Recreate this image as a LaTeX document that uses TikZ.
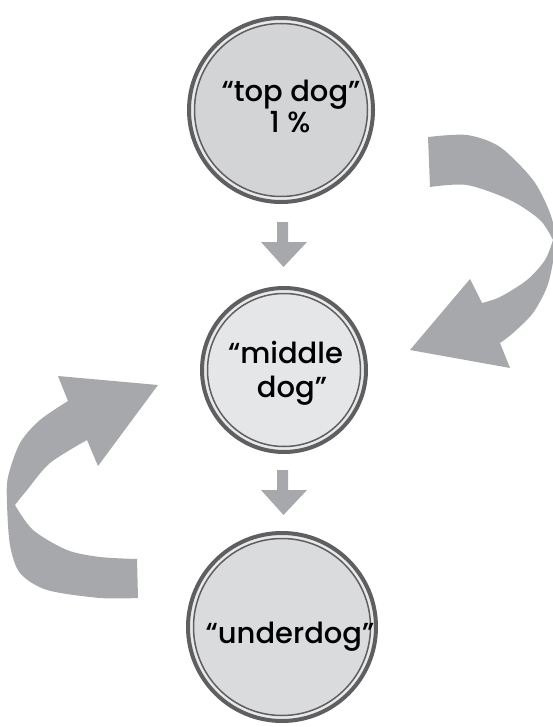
\documentclass[tikz,border=0pt]{standalone}
\usepackage{fontspec}
\setmainfont{Poppins Medium}
\begin{document}
\begin{tikzpicture}[x=1pt,y=-1pt,
  ringdark/.style={draw=ringgray,line width=4pt},
  thinring/.style={draw=ringgray,line width=1.5pt},
  ribbon/.style={fill=arrowgray},
  dogtext/.style={anchor=base,inner sep=0pt,text=black,font=\fontsize{29}{32}\selectfont},
]
\definecolor{arrowgray}{HTML}{A7A8AB}
\definecolor{ringgray}{HTML}{5F5F61}
\definecolor{gapgray}{HTML}{E9E9EA}
\definecolor{topfill}{HTML}{D3D4D6}
\definecolor{midfill}{HTML}{E5E6E8}
\definecolor{lowfill}{HTML}{DADBDD}
\useasboundingbox (0,0) rectangle (553,727);
\clip (0,0) rectangle (553,727);

% three tiers
\fill[gapgray] (281,110) circle (92) ;
\draw[ringdark] (281,110) circle (92);
\fill[topfill] (281,110) circle (86.5);
\draw[thinring] (281,110) circle (86.5);
\node[dogtext] (toplineA) at (291,102) {“top dog”};
\node[dogtext] (toplineB) at (290,133) {1 \%};

\fill[gapgray] (284,370) circle (82);
\draw[ringdark] (284,370) circle (82);
\fill[midfill] (284,370) circle (76.5);
\draw[thinring] (284,370) circle (76.5);
\node[dogtext] (midlineA) at (285.5,363) {“middle};
\node[dogtext] (midlineB) at (292,397) {dog”};

\fill[gapgray] (282,627) circle (94);
\draw[ringdark] (282,627) circle (94);
\fill[lowfill] (282,627) circle (88.5);
\draw[thinring] (282,627) circle (88.5);
\node[dogtext] (lowline) at (290,643) {“underdog”};

% small downward arrows between tiers
\fill[arrowgray] (277,222) -- (288,222) -- (288,242) -- (307,242) -- (283.5,267)
  -- (261,242) -- (277,242) -- cycle;
\fill[arrowgray] (277,470) -- (288,470) -- (288,490) -- (307,490) -- (283.5,515)
  -- (261,490) -- (277,490) -- cycle;

% right ribbon arrow: top tier down to middle tier
\fill[ribbon] (428,137)
  -- plot[smooth] coordinates {(428,137) (467,135) (500,147) (533,180) (550,213) (556,240) (553,262) (547,287) (533,313) (513,333) (500,343)}
  -- (510,368) -- (410,350) -- (470,279) -- (482,303)
  -- plot[smooth] coordinates {(482,303) (500,297) (527,280) (545,260) (553,240)}
  -- plot[smooth] coordinates {(553,240) (540,220) (510,200) (467,185) (430,187)}
  -- cycle;

% left ribbon arrow: lower tier up to middle tier
\fill[ribbon] (138,598) -- (137,559)
  -- plot[smooth] coordinates {(137,559) (100,557) (67,550) (33,530) (15,505)}
  -- plot[smooth] coordinates {(15,505) (27,490) (50,463) (87,440)}
  -- (98,466) -- (158,385) -- (58,376) -- (68,401)
  -- plot[smooth] coordinates {(68,401) (40,420) (20,443) (8,477) (7,503) (10,545) (20,573) (47,590) (100,598) (138,598)}
  -- cycle;
\end{tikzpicture}
\end{document}
